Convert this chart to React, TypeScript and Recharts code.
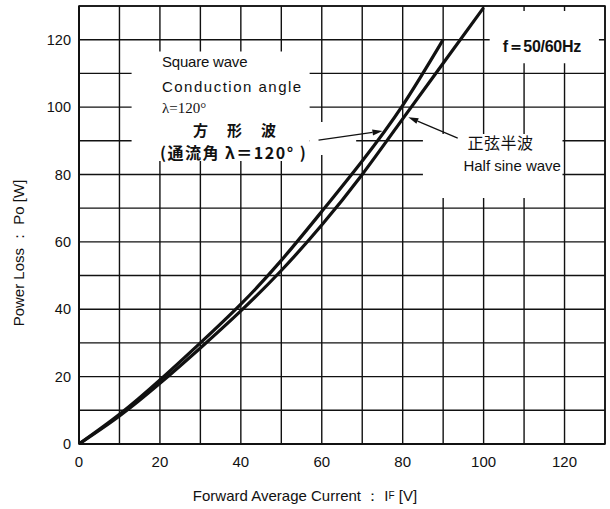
import React from "react";
import {
  LineChart,
  Line,
  XAxis,
  YAxis,
  CartesianGrid,
  ReferenceArea,
  ReferenceLine,
  ReferenceDot,
} from "recharts";

// forward average current (A) and power loss (W)
const squareCurrent = [0, 10, 20, 30, 40, 50, 60, 70, 80, 90];
const squareLoss = [0, 8.8, 19, 30, 41.5, 54.5, 69, 84, 100.5, 120];
const sineCurrent = [0, 10, 20, 30, 40, 50, 60, 70, 80, 90, 100];
const sineLoss = [0, 8.3, 18, 28.5, 39.5, 51.5, 65, 80, 96.5, 113, 129.5];

const gridTicks = [0, 10, 20, 30, 40, 50, 60, 70, 80, 90, 100, 110, 120, 130];

const squareData = squareCurrent.map((x, i) => ({ x, loss: squareLoss[i] }));
const sineData = sineCurrent.map((x, i) => ({ x, loss: sineLoss[i] }));

const FONT = "'Liberation Sans', Arial, sans-serif";
const CJK = "'Noto Sans CJK JP', 'Liberation Sans', sans-serif";
const INK = "#111";

const label20 = (v: number) => (v % 20 === 0 && v <= 120 ? String(v) : "");

// text placed at a data point, left aligned, vertically centred
const note = (text: React.ReactNode, style: any = {}) => (p: any) => (
  <text
    x={p.cx}
    y={p.cy}
    dominantBaseline="central"
    fill={INK}
    fontFamily={FONT}
    fontSize={15}
    {...style}
  >
    {text}
  </text>
);

const Arrow = (p: any) => {
  const { x1, y1, x2, y2 } = p;
  const a = Math.atan2(y2 - y1, x2 - x1);
  const L = 10;
  const W = 3;
  const bx = x2 - L * Math.cos(a);
  const by = y2 - L * Math.sin(a);
  const pts = [
    [x2, y2],
    [bx - W * Math.sin(a), by + W * Math.cos(a)],
    [bx + W * Math.sin(a), by - W * Math.cos(a)],
  ]
    .map((q) => q.join(","))
    .join(" ");
  return (
    <g>
      <line x1={x1} y1={y1} x2={bx} y2={by} stroke={INK} strokeWidth={1.2} />
      <polygon points={pts} fill={INK} />
    </g>
  );
};

const white = { fill: "#fff", fillOpacity: 1, stroke: "none" };

export default function App() {
  return (
    <div style={{ position: "absolute", left: 0, top: 0, background: "#fff" }}>
      <LineChart
        width={610}
        height={509}
        margin={{ top: 6, right: 5, left: 0, bottom: 0 }}
      >
        <CartesianGrid stroke={INK} strokeWidth={1.4} />
        <XAxis
          type="number"
          dataKey="x"
          domain={[0, 130]}
          ticks={gridTicks}
          interval={0}
          tickFormatter={label20}
          tickLine={false}
          axisLine={{ stroke: INK, strokeWidth: 2 }}
          height={65}
          tick={{ fill: INK, fontSize: 15, fontFamily: FONT, dy: 4 }}
          allowDataOverflow
          label={() => (
            <text
              x={305}
              y={495}
              textAnchor="middle"
              dominantBaseline="central"
              fill={INK}
              fontFamily={FONT}
              fontSize={15}
            >
              Forward Average Current ： I<tspan fontSize={10}>F</tspan> [V]
            </text>
          )}
        />
        <YAxis
          type="number"
          domain={[0, 130]}
          ticks={gridTicks}
          interval={0}
          tickFormatter={label20}
          tickLine={false}
          axisLine={{ stroke: INK, strokeWidth: 2 }}
          width={79}
          tick={{ fill: INK, fontSize: 14.5, fontFamily: FONT }}
          allowDataOverflow
          label={() => (
            <text
              x={18}
              y={253}
              transform="rotate(-90 18 253)"
              textAnchor="middle"
              dominantBaseline="central"
              fill={INK}
              fontFamily={FONT}
              fontSize={15}
            >
              Power Loss ： Po [W]
            </text>
          )}
        />
        <ReferenceArea x1={0} x2={130} y1={0} y2={130} fill="none" stroke={INK} strokeWidth={1.6} />
        <ReferenceArea x1={13} x2={57} y1={84} y2={116.5} {...white} />
        <ReferenceArea x1={57} x2={68.5} y1={85.8} y2={95.6} {...white} />
        <ReferenceArea x1={101.5} x2={128.5} y1={113} y2={128.5} {...white} />
        <ReferenceArea x1={85} x2={119.5} y1={73} y2={92} {...white} />

        <Line
          data={squareData}
          dataKey="loss"
          type="natural"
          stroke={INK}
          strokeWidth={3.2}
          dot={false}
          isAnimationActive={false}
        />
        <Line
          data={sineData}
          dataKey="loss"
          type="natural"
          stroke={INK}
          strokeWidth={3.2}
          dot={false}
          isAnimationActive={false}
        />

        <ReferenceLine segment={[{ x: 59.2, y: 90.2 }, { x: 75, y: 92.9 }]} shape={Arrow} />
        <ReferenceLine segment={[{ x: 93.6, y: 90.8 }, { x: 81.4, y: 97 }]} shape={Arrow} />

        <ReferenceDot x={20.5} y={113.4} r={0} shape={note("Square wave", { letterSpacing: -0.2 })} />
        <ReferenceDot x={20.5} y={106.2} r={0} shape={note("Conduction angle", { letterSpacing: 1.5 })} />
        <ReferenceDot
          x={20.5}
          y={99.7}
          r={0}
          shape={note("λ=120°", { fontFamily: "'Liberation Serif', serif", fontSize: 15 })}
        />
        <ReferenceDot
          x={28.2}
          y={93.3}
          r={0}
          shape={note("方　形　波", { fontFamily: CJK, fontWeight: 700, fontSize: 15, letterSpacing: 2 })}
        />
        <ReferenceDot
          x={20}
          y={86.7}
          r={0}
          shape={note("(通流角  λ＝120° )", { fontFamily: CJK, fontWeight: 700, fontSize: 16, letterSpacing: 1.5 })}
        />
        <ReferenceDot
          x={104.7}
          y={118.1}
          r={0}
          shape={note("f＝50/60Hz", { fontWeight: 700, fontSize: 16, letterSpacing: -0.3 })}
        />
        <ReferenceDot
          x={96}
          y={89.6}
          r={0}
          shape={note("正弦半波", { fontFamily: CJK, fontSize: 16, letterSpacing: 0.5 })}
        />
        <ReferenceDot x={95} y={82.8} r={0} shape={note("Half sine wave")} />
      </LineChart>
    </div>
  );
}
